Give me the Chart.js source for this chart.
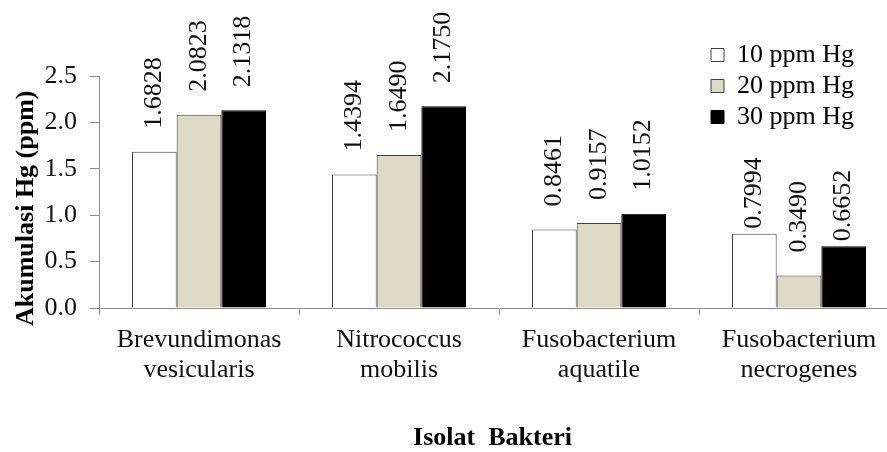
<!DOCTYPE html>
<html>
<head>
<meta charset="utf-8">
<script src="https://cdn.jsdelivr.net/npm/chart.js@4/dist/chart.umd.min.js"></script>
<style>
  html, body { margin: 0; padding: 0; background: #fff; overflow: hidden; }
  #wrap { width: 887px; height: 452px; overflow: hidden; }
  canvas { display: block; }
</style>
</head>
<body>
<div id="wrap"><canvas id="chart" width="900" height="452"></canvas></div>
<script>
// Isolat bakteri (kategori sumbu X)
const categories = [
  ['Brevundimonas', 'vesicularis'],
  ['Nitrococcus', 'mobilis'],
  ['Fusobacterium', 'aquatile'],
  ['Fusobacterium', 'necrogenes']
];

// Akumulasi Hg (ppm) per konsentrasi
const hg10 = [1.6828, 1.4394, 0.8461, 0.7994];
const hg20 = [2.0823, 1.6490, 0.9157, 0.3490];
const hg30 = [2.1318, 2.1750, 1.0152, 0.6652];

const seriesLabels = ['10 ppm Hg', '20 ppm Hg', '30 ppm Hg'];
const yTicks = [0, 0.5, 1.0, 1.5, 2.0, 2.5];

const FONT = "'Liberation Serif', 'Times New Roman', serif";
Chart.defaults.font.family = FONT;
Chart.defaults.font.size = 26;
Chart.defaults.color = '#000';

// label nilai diputar di atas batang
const valueLabels = {
  id: 'valueLabels',
  afterDatasetsDraw(chart, args, opts) {
    const ctx = chart.ctx;
    ctx.save();
    ctx.font = `26px ${FONT}`;
    ctx.fillStyle = '#111';
    ctx.textAlign = 'left';
    ctx.textBaseline = 'middle';
    chart.data.datasets.forEach((ds, di) => {
      const meta = chart.getDatasetMeta(di);
      meta.data.forEach((bar, i) => {
        const gap = (opts.near[di + '-' + i] !== undefined) ? opts.near[di + '-' + i] : opts.gap;
        ctx.save();
        ctx.translate(bar.x, bar.y - gap);
        ctx.rotate(-Math.PI / 2);
        ctx.fillText(ds.data[i].toFixed(4), 0, 0);
        ctx.restore();
      });
    });
    ctx.restore();
  }
};

// legenda diletakkan di dalam area plot, kanan atas
const legendSpot = {
  id: 'legendSpot',
  afterLayout(chart, args, opts) {
    const lg = chart.legend;
    if (!lg) return;
    lg.left = opts.left;
    lg.top = opts.top;
    lg.right = opts.left + lg.width;
    lg.bottom = opts.top + lg.height;
  }
};

const NB = '\u00A0';

const ctx = document.getElementById('chart').getContext('2d');
new Chart(ctx, {
  type: 'bar',
  data: {
    labels: categories,
    datasets: [
      {
        label: seriesLabels[0],
        data: hg10,
        backgroundColor: '#ffffff',
        borderColor: '#404040',
        borderWidth: 1
      },
      {
        label: seriesLabels[1],
        data: hg20,
        backgroundColor: '#ddd9c4',
        borderColor: '#404040',
        borderWidth: 1
      },
      {
        label: seriesLabels[2],
        data: hg30,
        backgroundColor: '#000000',
        borderColor: '#000000',
        borderWidth: 1
      }
    ]
  },
  plugins: [valueLabels, legendSpot],
  options: {
    responsive: false,
    animation: false,
    categoryPercentage: 0.67,
    barPercentage: 1.0,
    layout: {
      padding: { left: 0, top: 76, right: 1, bottom: 0 }
    },
    plugins: {
      tooltip: { enabled: false },
      legend: {
        position: 'chartArea',
        align: 'start',
        labels: {
          boxWidth: 13,
          boxHeight: 13,
          padding: 5,
          color: '#000',
          font: { size: 26, family: FONT }
        }
      },
      legendSpot: { left: 706, top: 37 },
      valueLabels: { gap: 23, near: { '0-3': 5, '2-3': 5 } }
    },
    scales: {
      x: {
        afterFit: (scale) => { scale.height = 144; },
        grid: {
          drawOnChartArea: false,
          drawTicks: true,
          tickLength: 7,
          color: '#8c8c8c'
        },
        border: { color: '#8c8c8c', width: 1 },
        ticks: {
          padding: 10,
          color: '#111',
          font: { size: 26, lineHeight: 1.15 },
          maxRotation: 0,
          autoSkip: false
        },
        title: {
          display: true,
          // spasi di ujung menggeser judul sedikit ke kiri, seperti aslinya
          text: 'Isolat  Bakteri' + NB + NB,
          color: '#000',
          font: { size: 26, weight: 'bold', family: FONT },
          padding: { top: 0, bottom: -2 }
        }
      },
      y: {
        min: 0,
        max: 2.5,
        afterFit: (scale) => { scale.width = 99; },
        afterBuildTicks: (scale) => { scale.ticks = yTicks.map(v => ({ value: v })); },
        grid: {
          drawOnChartArea: false,
          drawTicks: true,
          tickLength: 9,
          color: '#8c8c8c'
        },
        border: { color: '#8c8c8c', width: 1 },
        ticks: {
          padding: 13,
          color: '#111',
          font: { size: 26 },
          callback: (v) => Number(v).toFixed(1)
        },
        title: {
          display: true,
          // judul sumbu Y di aslinya sedikit lebih ke bawah
          text: 'Akumulasi Hg (ppm)' + NB.repeat(5),
          color: '#000',
          font: { size: 26, weight: 'bold', family: FONT },
          padding: { top: 11, bottom: 0 }
        }
      }
    }
  }
});
</script>
</body>
</html>
